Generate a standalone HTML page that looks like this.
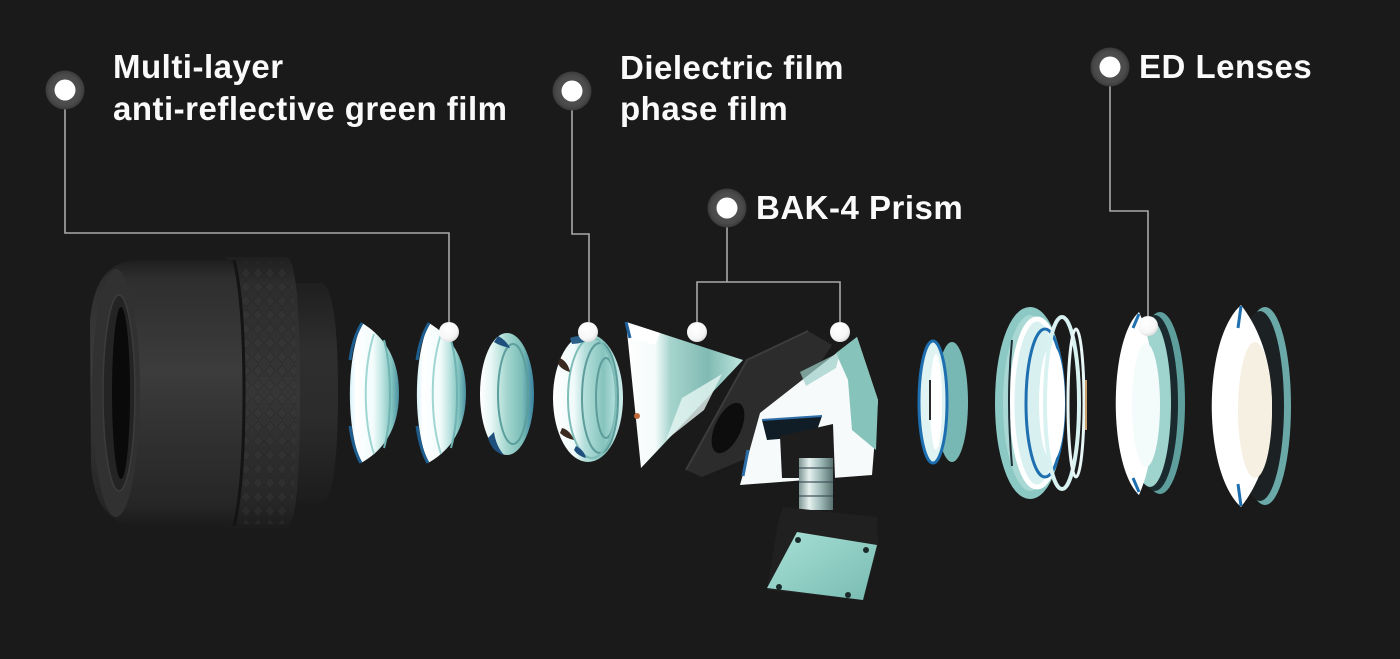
<!DOCTYPE html>
<html>
<head>
<meta charset="utf-8">
<style>
html,body{margin:0;padding:0;background:#1a1a1a;}
body{width:1400px;height:659px;overflow:hidden;}
svg{display:block;}
.lbl{font-family:"Liberation Sans",Arial,sans-serif;font-weight:bold;font-size:33px;letter-spacing:0.5px;fill:#fafafa;}
</style>
</head>
<body>
<svg width="1400" height="659" viewBox="0 0 1400 659" xmlns="http://www.w3.org/2000/svg">
<defs>
  <linearGradient id="bodyG" x1="0" y1="0" x2="0" y2="1">
    <stop offset="0" stop-color="#1e1e1e"/>
    <stop offset="0.07" stop-color="#2e2e2e"/>
    <stop offset="0.42" stop-color="#3c3c3c"/>
    <stop offset="0.6" stop-color="#333333"/>
    <stop offset="0.92" stop-color="#262626"/>
    <stop offset="1" stop-color="#1b1b1b"/>
  </linearGradient>
  <linearGradient id="ringG" x1="0" y1="0" x2="0" y2="1">
    <stop offset="0" stop-color="#1f1f1f"/>
    <stop offset="0.1" stop-color="#2d2d2d"/>
    <stop offset="0.5" stop-color="#363636"/>
    <stop offset="0.9" stop-color="#272727"/>
    <stop offset="1" stop-color="#1b1b1b"/>
  </linearGradient>
  <linearGradient id="rearG" x1="0" y1="0" x2="0" y2="1">
    <stop offset="0" stop-color="#1f1f1f"/>
    <stop offset="0.3" stop-color="#2e2e2e"/>
    <stop offset="0.6" stop-color="#2c2c2c"/>
    <stop offset="1" stop-color="#1c1c1c"/>
  </linearGradient>
  <pattern id="knurl" width="12" height="14" patternUnits="userSpaceOnUse">
    <path d="M6 1 L11 7 L6 13 L1 7Z" fill="#3c3c3c" stroke="#1e1e1e" stroke-width="1"/>
  </pattern>
  <linearGradient id="lg1" x1="0" y1="0" x2="1" y2="0">
    <stop offset="0" stop-color="#d6f2f8"/>
    <stop offset="0.12" stop-color="#ffffff"/>
    <stop offset="0.48" stop-color="#f2fbfb"/>
    <stop offset="0.64" stop-color="#c3e7e4"/>
    <stop offset="0.85" stop-color="#82c4c0"/>
    <stop offset="1" stop-color="#4a8fa0"/>
  </linearGradient>
  <linearGradient id="lg3" x1="0" y1="0" x2="1" y2="0">
    <stop offset="0" stop-color="#ffffff"/>
    <stop offset="0.22" stop-color="#e4f6f3"/>
    <stop offset="0.5" stop-color="#a3d6cf"/>
    <stop offset="0.78" stop-color="#7bbdb7"/>
    <stop offset="1" stop-color="#3a82a0"/>
  </linearGradient>
  <linearGradient id="lg4" x1="0" y1="0" x2="1" y2="0">
    <stop offset="0" stop-color="#ffffff"/>
    <stop offset="0.3" stop-color="#f0fafa"/>
    <stop offset="0.45" stop-color="#b5dfdb"/>
    <stop offset="0.72" stop-color="#86c4be"/>
    <stop offset="1" stop-color="#cfeeee"/>
  </linearGradient>
  <linearGradient id="pg1" x1="0" y1="0" x2="1" y2="0">
    <stop offset="0" stop-color="#ffffff"/>
    <stop offset="0.25" stop-color="#f4fbfa"/>
    <stop offset="0.38" stop-color="#a6d4cd"/>
    <stop offset="0.7" stop-color="#80bab3"/>
    <stop offset="1" stop-color="#bfe6e0"/>
  </linearGradient>
  <linearGradient id="tealG" x1="0" y1="0" x2="1" y2="1">
    <stop offset="0" stop-color="#a8e0d6"/>
    <stop offset="1" stop-color="#78bbb2"/>
  </linearGradient>
  <linearGradient id="stemG" x1="0" y1="0" x2="1" y2="0">
    <stop offset="0" stop-color="#7f9694"/>
    <stop offset="0.3" stop-color="#e6f1ef"/>
    <stop offset="0.6" stop-color="#a6c1be"/>
    <stop offset="1" stop-color="#587170"/>
  </linearGradient>
  <radialGradient id="dotG" cx="0.4" cy="0.35" r="0.7">
    <stop offset="0" stop-color="#ffffff"/>
    <stop offset="0.7" stop-color="#f6f6f6"/>
    <stop offset="1" stop-color="#d8d8d8"/>
  </radialGradient>
  <radialGradient id="haloG" cx="0.5" cy="0.5" r="0.5">
    <stop offset="0" stop-color="#5a5a5a"/>
    <stop offset="0.8" stop-color="#4a4a4a"/>
    <stop offset="1" stop-color="#3a3a3a"/>
  </radialGradient>
</defs>

<rect width="1400" height="659" fill="#1a1a1a"/>

<!-- ================= EYEPIECE ================= -->
<path d="M290 283 L320 283 Q338 283 338 393 Q338 503 320 503 L290 503 Z" fill="url(#rearG)"/>
<path d="M226 257 L286 257 Q300 257 300 393 Q300 529 286 529 L226 529 Z" fill="url(#ringG)"/>
<path d="M240 262 L286 262 Q296 262 296 393 Q296 524 286 524 L240 524 Z" fill="url(#knurl)" opacity="0.45"/>
<path d="M226 257 L286 257 Q300 257 300 393 Q300 529 286 529 L226 529 Z" fill="url(#ringG)" opacity="0.35"/>
<path d="M135 260 L234 260 Q244 300 244 393 Q244 486 234 526 L135 526 Q95 522 91 465 L90 320 Q95 263 135 260 Z" fill="url(#bodyG)"/>
<path d="M234 260 Q244 300 244 393 Q244 486 234 526" fill="none" stroke="#141414" stroke-width="3"/>
<ellipse cx="116" cy="393" rx="24" ry="124" fill="#313131"/>
<ellipse cx="119" cy="393" rx="16" ry="98" fill="#242424" stroke="#3c3c3c" stroke-width="1.5"/>
<ellipse cx="121" cy="393" rx="9" ry="86" fill="#0a0a0a"/>

<!-- ================= LEFT LENSES ================= -->
<g>
  <path d="M362 323 C346 360 346 426 361 463 C390 447 399 420 399 393 C399 366 390 340 362 323 Z" fill="url(#lg1)"/>
  <path d="M374 334 C363 368 363 420 374 454" fill="none" stroke="#9fd6d3" stroke-width="2"/>
  <path d="M384 340 C392 370 392 420 384 448" fill="none" stroke="#6fb3b2" stroke-width="2"/>
  <path d="M362 323 C356 333 352 345 350 360" fill="none" stroke="#1d5e8e" stroke-width="3"/>
  <path d="M361 463 C355 453 352 440 350 426" fill="none" stroke="#1d5e8e" stroke-width="3"/>
</g>
<g transform="translate(67,0)">
  <path d="M362 323 C346 360 346 426 361 463 C390 447 399 420 399 393 C399 366 390 340 362 323 Z" fill="url(#lg1)"/>
  <path d="M374 334 C363 368 363 420 374 454" fill="none" stroke="#9fd6d3" stroke-width="2"/>
  <path d="M384 340 C392 370 392 420 384 448" fill="none" stroke="#6fb3b2" stroke-width="2"/>
  <path d="M362 323 C356 333 352 345 350 360" fill="none" stroke="#1d5e8e" stroke-width="3"/>
  <path d="M361 463 C355 453 352 440 350 426" fill="none" stroke="#1d5e8e" stroke-width="3"/>
</g>
<g>
  <ellipse cx="507" cy="394" rx="27" ry="61" fill="url(#lg3)"/>
  <ellipse cx="513" cy="394" rx="15" ry="50" fill="none" stroke="#5c9f9d" stroke-width="2"/>
  <path d="M488 438 Q492 452 504 455 Q496 446 494 432 Z" fill="#1e4f7d"/>
  <path d="M498 336 Q506 340 510 348 Q500 346 494 342 Z" fill="#1e4f7d"/>
</g>
<g>
  <ellipse cx="588" cy="398" rx="35" ry="64" fill="url(#lg4)"/>
  <ellipse cx="600" cy="398" rx="18" ry="55" fill="none" stroke="#5d9c9a" stroke-width="2"/>
  <ellipse cx="606" cy="398" rx="10" ry="40" fill="none" stroke="#5d9c9a" stroke-width="2"/>
  <ellipse cx="592" cy="398" rx="24" ry="60" fill="none" stroke="#7fbdb8" stroke-width="2"/>
  <path d="M560 358 Q568 362 570 372 Q562 370 558 364 Z" fill="#3a2a20"/>
  <path d="M562 428 Q570 430 574 440 Q565 438 560 433 Z" fill="#3a2a20"/>
  <path d="M576 446 Q584 450 586 458 Q578 456 574 450 Z" fill="#1e4f7d"/>
  <path d="M570 338 Q580 334 592 338 Q582 344 572 344 Z" fill="#2a5f8a"/>
</g>

<!-- ================= PRISMS ================= -->
<polygon points="626,322 743,360 641,468" fill="url(#pg1)"/>
<polygon points="682,398 722,374 704,410 666,440" fill="#e6f6f3" opacity="0.8"/>
<polygon points="626,322 660,333 655,345 630,338" fill="#ffffff"/>
<path d="M626 322 L630 338" stroke="#1e5f9a" stroke-width="3"/>
<circle cx="637" cy="416" r="3" fill="#c06a3a"/>

<polygon points="686,470 747,360 808,331 832,345 762,452 702,477" fill="#2c2c2c"/>
<polyline points="686,470 747,360 808,331" fill="none" stroke="#3c3c3c" stroke-width="2"/>
<ellipse cx="728" cy="428" rx="13" ry="27" transform="rotate(25 728 428)" fill="#0d0d0d"/>

<polygon points="760,413 857,337 878,400 872,475 740,485" fill="#f6fafa"/>
<polygon points="836,353 857,337 878,400 876,450 852,430 848,380" fill="#86c3bb"/>
<polygon points="800,372 840,352 836,368 806,386" fill="#9ccfc8" opacity="0.7"/>
<polygon points="762,420 822,416 815,436 767,440" fill="#101c26"/>
<path d="M762 420 L822 416" stroke="#2d6ea8" stroke-width="2"/>
<path d="M743 476 L748 450" stroke="#2d6ea8" stroke-width="3"/>
<polygon points="780,436 833,424 835,478 782,478" fill="#1d1d1d"/>

<rect x="799" y="458" width="34" height="52" fill="url(#stemG)"/>
<line x1="799" y1="468" x2="833" y2="468" stroke="#3d4f55" stroke-width="2" opacity="0.6"/>
<line x1="799" y1="482" x2="833" y2="482" stroke="#3d4f55" stroke-width="2" opacity="0.6"/>
<line x1="799" y1="496" x2="833" y2="496" stroke="#3d4f55" stroke-width="2" opacity="0.6"/>

<polygon points="783,507 877,517 878,547 863,600 767,590 778,523" fill="#202020"/>
<polygon points="797,532 877,545 863,600 767,588" fill="url(#tealG)"/>
<circle cx="798" cy="540" r="3" fill="#1a2a2a"/>
<circle cx="866" cy="550" r="3" fill="#1a2a2a"/>
<circle cx="779" cy="587" r="3" fill="#1a2a2a"/>
<circle cx="848" cy="595" r="3" fill="#1a2a2a"/>

<!-- ================= RIGHT LENSES ================= -->
<g>
  <ellipse cx="952" cy="402" rx="16" ry="60" fill="#78b8b4"/>
  <ellipse cx="933" cy="402" rx="14" ry="61" fill="#dff3f3" stroke="#1e6fb0" stroke-width="3"/>
  <ellipse cx="936" cy="402" rx="6" ry="48" fill="#ffffff"/>
  <path d="M930 380 L930 420" stroke="#2a2a2a" stroke-width="2"/>
</g>
<g>
  <ellipse cx="1030" cy="403" rx="31" ry="92" fill="#a9d8d4" stroke="#8cc9c4" stroke-width="8"/>
  <ellipse cx="1037" cy="403" rx="25" ry="84" fill="#d8f0f0" stroke="#ffffff" stroke-width="5"/>
  <ellipse cx="1045" cy="403" rx="19" ry="74" fill="none" stroke="#1e6fb0" stroke-width="3"/>
  <ellipse cx="1052" cy="403" rx="13" ry="58" fill="#ffffff"/>
  <ellipse cx="1062" cy="403" rx="17" ry="86" fill="none" stroke="#d8f1f1" stroke-width="4"/>
  <ellipse cx="1076" cy="403" rx="8" ry="74" fill="none" stroke="#e8f6f6" stroke-width="3"/>
  <path d="M1012 340 Q1006 400 1012 466" fill="none" stroke="#1e2e34" stroke-width="2"/>
  <path d="M1086 380 L1086 430" stroke="#c9a070" stroke-width="2"/>
</g>
<g>
  <ellipse cx="1160" cy="403" rx="25" ry="91" fill="#5e9f9e"/>
  <ellipse cx="1155" cy="403" rx="23" ry="88" fill="#1a2a2e"/>
  <ellipse cx="1150" cy="403" rx="21" ry="84" fill="#9fd3ce"/>
  <path d="M1139 312 C1108 340 1108 466 1139 495 C1150 470 1154 440 1154 403 C1154 366 1150 336 1139 312 Z" fill="#ffffff"/>
  <ellipse cx="1146" cy="405" rx="14" ry="62" fill="#f4fbfb"/>
  <path d="M1139 314 L1133 328" stroke="#1e6fb0" stroke-width="3"/>
  <path d="M1139 492 L1133 478" stroke="#1e6fb0" stroke-width="3"/>
</g>
<g>
  <ellipse cx="1265" cy="406" rx="26" ry="99" fill="#6aa9a8"/>
  <ellipse cx="1260" cy="406" rx="24" ry="95" fill="#1c2224"/>
  <path d="M1241 305 C1202 340 1202 472 1241 507 C1262 480 1272 445 1272 406 C1272 367 1262 332 1241 305 Z" fill="#ffffff"/>
  <ellipse cx="1255" cy="410" rx="17" ry="68" fill="#f6f0e2"/>
  <path d="M1241 306 L1238 328" stroke="#1e6fb0" stroke-width="3"/>
  <path d="M1241 506 L1238 484" stroke="#1e6fb0" stroke-width="3"/>
</g>

<!-- ================= CONNECTORS ================= -->
<g fill="none" stroke="#a9a9a9" stroke-width="1.6">
  <path d="M65 100 V233 H449 V322"/>
  <path d="M572 101 V234 H589 V322"/>
  <path d="M727 218 V282"/>
  <path d="M697 322 V282 H840 V322"/>
  <path d="M1110 77 V211 H1148 V316"/>
</g>

<circle cx="449" cy="332" r="10" fill="url(#dotG)"/>
<circle cx="588" cy="332" r="10" fill="url(#dotG)"/>
<circle cx="697" cy="332" r="10" fill="url(#dotG)"/>
<circle cx="840" cy="332" r="10" fill="url(#dotG)"/>
<circle cx="1148" cy="326" r="10" fill="url(#dotG)"/>

<circle cx="65" cy="90" r="19.5" fill="url(#haloG)"/>
<circle cx="65" cy="90" r="10.5" fill="#ffffff"/>
<circle cx="572" cy="91" r="19.5" fill="url(#haloG)"/>
<circle cx="572" cy="91" r="10.5" fill="#ffffff"/>
<circle cx="727" cy="208" r="19.5" fill="url(#haloG)"/>
<circle cx="727" cy="208" r="10.5" fill="#ffffff"/>
<circle cx="1110" cy="67" r="19.5" fill="url(#haloG)"/>
<circle cx="1110" cy="67" r="10.5" fill="#ffffff"/>

<!-- ================= LABELS ================= -->
<text class="lbl" x="113" y="78">Multi-layer</text>
<text class="lbl" x="113" y="120">anti-reflective green film</text>
<text class="lbl" x="620" y="79">Dielectric film</text>
<text class="lbl" x="620" y="120">phase film</text>
<text class="lbl" x="756" y="219">BAK-4 Prism</text>
<text class="lbl" x="1139" y="78">ED Lenses</text>
</svg>
</body>
</html>
